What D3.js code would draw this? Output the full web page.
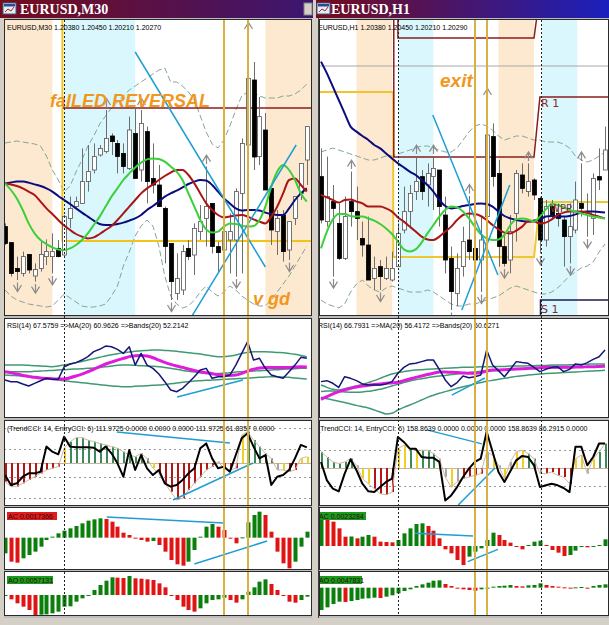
<!DOCTYPE html>
<html><head><meta charset="utf-8">
<script src="https://cdn.jsdelivr.net/npm/d3@7/dist/d3.min.js"></script>
<style>html,body{margin:0;padding:0;background:#d4d0c8;overflow:hidden}</style>
</head><body>
<script>
// ================= DATA: EURUSD,M30 (left) — prices in pips above base =================
const m30Open=[44.7,36.7,23.8,21.3,30.8,20,23.8,29.7,29.7,33.8,30.5,48.8,54.7,56.3,67.2,73,80.5,82.2,90,86.3,81.3,73.8,91.3,73,92.2,68.8,65.5,53.8,36.3,11.3,13,33.8,30.5,42.2,48.8,56.3,34.7,33,38,38,61.3,85.5,118,79.7,93,63.8,42.2,50.5,33,48.8,61.3,78];
const m30High=[46.3,36.7,29.7,32.2,30.8,26.3,38,38.3,41.3,38,50.5,59.7,59.7,83.8,85.5,86.3,85.5,103,91.3,88,86.3,99.7,103.8,103,94.7,86.3,75.5,54.7,36.3,31.3,35.5,38,46.3,55.5,74.7,56.3,37.2,61.3,51.3,63.8,88.8,141,127,109.5,101.5,65.5,53,53,47.2,59.7,76.3,94.7];
const m30Low=[35.5,19.7,18,19.7,21.3,17.2,22.2,25.5,21.3,29.3,29.7,43.8,53.8,56.3,62.2,71.3,79.7,81.3,80.5,71.3,71.3,73,68.8,67.2,56.3,61.3,54.7,26.3,8,8,10.5,28,20.5,38,34.7,31.3,21.3,19.7,21.3,19.7,21.3,84.7,73,75.5,63,35.5,30.5,27.2,28,45.5,58,65.5];
const m30Close=[36.3,21.3,22.2,29.7,23,23.3,30.8,32.2,32.2,29.7,49.7,53.8,57.2,67.2,72.2,79.7,83.8,88.8,87.2,79.7,74.7,93,68.8,96.3,67.2,65.5,54.7,34.7,17.2,18.8,32.2,29.7,43.8,47.2,54.7,34.7,31.7,42.2,42.2,62.2,86.3,118.8,79.5,99.7,63,43,48.8,32.2,47.2,59.7,76.3,94.7];
const m30MaBlue=[66.3,66.8,67.2,67.2,66.7,65.8,65,63.8,62.2,60,58,56,53.8,51.7,49.7,47.7,46,45.5,45.5,46,46.7,47.7,48.8,50.5,53,55,57.2,59.7,61.3,62.7,64.3,66,67.2,68,67.7,65.5,62.2,58.8,56.3,53.8,52.7,53,53,52.7,51.7,51,50.5,50.5,53.8,58,61.3,63.8];
const m30MaRed=[66.3,65.8,65,63.8,62.2,60.5,57.2,53.8,51,48,45.2,43,41,39.7,38.8,39.3,41,43,45,48,51.3,54.7,58,61.3,63.8,65.8,68,70,71.7,73,73,70.5,66.3,61.3,56.3,53,50.5,49.3,49.7,50.3,50.5,49.7,48.3,47.2,46.3,49.7,54.7,61.3,68,68.8,65.5,62.2];
const m30MaGreen=[66.3,63,58.8,53,46.3,41.3,38,36,34.3,33.3,33,33.8,35.5,38,41.3,45.5,49.7,54.7,59.7,63.8,68,71.3,74.3,76.7,78.3,78.8,78.5,77.2,74.7,72.2,68,61.3,54.7,48,43.3,41.7,42.2,44.7,46.3,46,45.2,44.7,45,48,54.7,64.7,72.2,75.5,73,68,61.3,57.2];
const m30EnvUp=[86.5,87,87.5,87,86.5,86,85,80,73,68,62,65,72,78,85,90,96,100,104,107,110,113,115,117,119,121,123,124,117,117,115,112,108,100,92,86,84,88,95,103,110,112,112,110,109,109,109,110,110,111,113,116];
const m30EnvDn=[13,10,8,7,6,5.5,5,4.5,5,8,11,9,7,5,4.5,4.5,5,6,10,15,25,32,40,45,48,45,35,20,10,6,4,5,8,12,15,12,10,12,15,13,10,8,6,5,5,8,12,16,20,25,30,35];
const m30FractalUp=[17,23,34,41];
const m30FractalDn=[2,5,8,28,39,48];
const m30SessFrom=[-1,10,44], m30SessTo=[8,22,53], m30SessKind=['a','b','a'];
const m30Gold=[37,41], m30Dotted=[10];
const m30Yellow=[[9.7,150],[9.7,37.5],[53,37.5]];
const m30Resist=[[9.8,104],[53,104]];
const m30TrendA=[[22,132],[44,24.5]], m30TrendB=[[31.6,0],[49.2,85.5]];
const m30Rsi=[51.4,50.2,50.2,48.5,47,49,50.9,52.7,51.9,51.9,61.2,63.2,64.2,66.1,68.6,72.3,74,76.4,75.9,74,71,75.9,62.4,71,62.4,60,55.8,50.2,44.1,42.8,45.3,49.4,53.8,58.8,60,52.7,53.8,53.8,55.1,62.4,71,79.6,66.1,67.4,60,55.1,53.8,52.7,57.5,62.4,68.1,67.4];
const m30RsiMa=[57.5,56.8,55.8,54.8,54.1,53.4,52.9,52.6,52.4,52.1,52.1,53.1,54.4,55.8,57.5,59.3,61.2,63.2,64.6,66.1,67.3,68.6,69.3,69.5,69.1,67.8,66.1,64.4,62.9,61.7,60.7,59.5,58.5,57.5,56.8,56.1,55.3,55.1,54.8,55.1,56.3,58,59.3,60.2,60.7,60.7,60.7,60.7,60.7,61,61.2,61];
const m30BandUp=[62.4,62.4,62.4,62.4,62.2,62,61.7,61.5,61.2,61.7,62.4,63.2,64.2,65.1,66.1,67.1,68.1,69.1,70,70.8,71.5,72,72.5,73,73.2,73.5,73.5,73.2,73,72.5,72,71.5,71,70.5,69.8,69.1,68.6,68.6,69.1,69.8,71,71.7,72.2,72.2,72.2,72,71.7,71.5,71,70.3,69.5,68.6];
const m30BandMid=[57.5,57.5,57.5,57.5,57.5,57.8,58,58.3,58.5,58.8,59,59.3,59.5,59.7,60,60.2,60.7,61.2,61.7,62.2,62.4,62.4,62.2,62,61.7,61.5,61.2,60.7,60,59.3,58.5,57.8,57.3,56.8,56.5,56.3,56.3,56.5,56.8,57.3,57.5,57.8,58,58.3,58.5,58.8,59,59.3,59.5,59.7,60,60];
const m30BandDn=[55.1,54.8,54.6,54.4,53.9,53.4,52.9,52.4,51.9,51.4,50.9,50.4,50,49.5,49,48.5,48,47.5,47,46.8,46.5,46.5,46.8,47,47.2,47.5,47.7,48.2,48.7,49.2,49.7,50.2,50.7,50.9,51.2,51.4,51.6,51.9,52.1,52.4,52.6,52.9,53.1,53.4,53.6,53.9,53.9,53.6,53.4,52.9,52.6,52.1];
const m30RsiTrend=[[29.1,38.9],[40.2,51.4]];
const m30CciHist=[-133,-169,-169,-145,-121,-98,-74,-50,-38,-26,105,152,181,181,164,152,140,129,117,105,81,57,45,69,33,-38,-74,-145,-205,-264,-252,-193,-145,-98,-50,-26,10,-38,-50,-38,200,224,164,117,69,33,-50,-50,-62,-50,33,45];
const m30CciColor=['r','r','r','r','r','r','r','r','r','r','y','g','g','g','g','g','g','g','g','g','g','g','g','g','g','y','r','r','r','r','r','r','r','r','r','r','n','r','r','r','y','g','g','g','g','g','n','y','r','r','y','y'];
const m30CciLine=[-86,-157,-145,-98,-74,-74,-62,117,81,62,188,117,112,112,112,109,81,117,69,-2,-98,93,-50,57,-38,-86,-50,-145,-169,-157,-121,-74,-38,105,140,33,-38,-26,-62,57,176,212,117,33,57,-157,-98,-86,-50,33,129,112];
const m30CciLevels=[-250,-100,100,250];
const m30CciTrendA=[[18.9,221],[38,143]], m30CciTrendB=[[28.4,-264],[41.9,0]];
const m30Ac=[-47,-72,-75,-62,-52,-42,-27,-7,3,13,21,28,35,43,51,55,58,56,48,33,15,8,-2,-7,-12,-10,-22,-42,-67,-80,-84,-72,-37,3,33,41,33,23,-2,-17,1,46,68,78,68,18,-42,-77,-92,-72,-27,18];
const m30Ao=[-3,-13,-25,-35,-45,-60,-59,-58,-55,-50,-35,-34,-20,-10,0,15,30,43,53,52,51,57,50,49,47,45,35,23,0,-15,-35,-45,-50,-40,-25,-15,-13,-8,-15,-23,-13,10,23,40,47,33,15,0,-20,-23,-15,-5];
const m30AcTrendA=[[17.2,62],[36.9,44]], m30AcTrendB=[[32,-79],[44.3,-10]];

// ================= DATA: EURUSD,H1 (right) =================
const h1Open=[69.7,47.2,57.2,46.3,28.8,57.2,52.2,38.8,35.5,18.8,24.7,18.8,18,24.7,43,52.2,62.2,69.7,65.5,69.7,73,50.5,28.8,11.3,24.7,38,33.8,28,49.7,89.7,71.3,34.7,28,51.3,70.5,62.2,68,58.8,38,54.7,51.3,48,39.7,43,56.3,51.3,48.8,69.7,73];
const h1High=[83.8,79.7,65.5,56.3,59.7,72.2,64.7,47.2,49.7,29.7,28,29.7,32.2,46.3,64.7,65.5,79.7,73,76.3,79.7,73,59.7,34.7,31.3,44.7,60,49.7,49.7,108,96.3,78,41.3,50.5,73,76.3,76.3,68.8,59.7,58,58,56.3,49.7,56.3,67.2,76.3,61.3,71.3,83.8,94.7];
const h1Low=[46.3,44.7,19.7,28,28,44.7,38,29.7,18,13,13,18,17.2,24.7,41.3,44.7,58,58,54.7,53,44.7,21.3,3,5,19.7,28,24.7,12,13,64.7,24.7,24.7,21.3,37.2,61.3,59.7,58,31.3,34.7,48,44.7,24.7,26.3,41.3,49.7,39.7,40.5,63,73];
const h1Close=[48,59.7,53.8,28.8,49.7,52.2,48.8,35.5,18,23.8,19.7,23.8,23.8,41.3,52.2,61.3,67.2,62.2,71.3,73.8,54.7,28,12.2,23.8,37.2,32.2,28,38,90.5,69.7,34.7,26.3,42.2,71.3,63.8,67.2,60.5,38,54.7,49.7,48.8,39.7,44.7,58,53.8,52.2,68.8,68,83];
const h1MaBlue=[127.2,121.3,114.7,108,101.3,94.7,92.2,90,88,85.5,83.8,81.3,78.8,76.3,74.3,72.2,70.5,68,65.5,62.2,58,55,53.8,54.3,55,55.5,56,56.3,56,54.7,52.2,50,48.8,48,47.5,47.2,47.7,48.3,49.7,50,49.7,49.7,50,50.8,51.7,52.2,52.2,52,51.8];
const h1MaRed=[60.5,59.3,58,56.7,58,58.3,57.2,56.3,54.7,54.7,54.7,53.8,52.2,49.3,47.2,44.7,42.2,39.7,38.3,38,39.7,42.2,44.7,48,50.5,51.3,51,50,48,45.5,43.3,41.7,41.3,42.7,44.7,47.2,47.2,46.3,46.7,48.3,50.5,51.7,52.2,52.2,52.2,51.7,50.5,49.7,48.8];
const h1MaGreen=[33.8,42.2,48.3,51,51,50,49.7,49.7,48.8,47.7,46,43.8,41,37.2,33.3,32.2,33.3,36.7,41.3,45.5,49.7,53,54.7,54.3,52.2,48.8,44.7,41,38.8,38,38.3,40.5,45.5,48.3,48.8,48.3,47.2,49.7,53.3,56,55.5,54.3,53,52.2,51.3,50.5,49.7,49.3,48.8];
const h1EnvUp=[82,83,84,83,82,81,80,79,78,78,79,80,80,81,82,83,84,85,85,84,83,82,82,84,88,92,95,96,95,93,90,88,89,90,90,89,88,88,87,87,87,86,84,80,78,77,78,80,82];
const h1EnvDn=[8,6,5,4,6,12,16,18,15,13,12,14,15,14,13,12,12,12,13,12,10,8,6,5,5,6,6,7,8,9,10,12,14,15,14,13,12,11,11,12,14,17,20,22,24,25,27,32,36];
const h1FractalUp=[5,16,19,25,28,35,44];
const h1FractalDn=[2,10,22,27,31,37,42,45];
const h1SessFrom=[6,13,30,37.3], h1SessTo=[12,19,36,43.3], h1SessKind=['a','b','a','b'];
const h1Gold=[26,28], h1Dotted=[13,37.2];
const h1PivotA=[[12.3,150],[12.3,79.5],[36,79.5],[37,109.5],[50,109.5]];
const h1PivotB=[[13,150],[13,139],[36,139],[36.5,150]];
const h1Yellow=[[-1,112],[12.2,112],[12.2,29.5],[36,29.5],[37,57],[50,57]];
const h1S1=[[37.1,-2],[37.1,8],[50,8]];
const h1Bid=[[-1,125],[50,125]];
const h1TrendA=[[18.9,100.5],[29.9,20.5]], h1TrendB=[[23.8,3],[31.9,65.5]];
const h1Rsi=[47.5,48.1,46.5,44,50.5,49.5,48.1,46.1,45.4,45.4,45.4,46.1,47.5,52.6,56.2,58.3,58.7,59.7,60.7,60.7,55,48.5,44.4,46.9,50.9,49.9,50.5,51.5,66.8,57.6,54.2,50.5,55,59.7,59.1,58.7,56.2,53.6,55,56.2,56.6,53.6,55,58.3,57.6,59.1,61.1,62.7,66.8];
const h1RsiMa=[36.7,38.3,40,41.4,42.4,43.4,44.2,44.8,45.3,45.7,46.1,46.5,46.7,47.1,48.1,49.1,50.1,50.9,51.8,52.6,53.4,53.4,53.2,53,52.8,52.6,52.6,53,54,54.6,54.6,54.8,55,55.2,55.4,55.6,55.8,56,56.2,56.2,56.2,56.2,56.2,56.4,56.4,56.6,56.6,56.8,57];
const h1BandUp=[45.4,44,42.8,42.4,43.2,44,44.8,45.7,46.9,48.1,49.5,50.9,52.2,53,53.6,54.2,54.6,54.8,55,55.2,55.4,55.6,55.8,56,56.2,56.2,56.4,56.6,56.6,56.6,56.8,56.8,57,57,57,57.2,57.2,57.4,57.4,57.6,57.6,57.6,57.8,57.8,58.1,58.1,58.3,58.3,58.3];
const h1BandMid=[41.4,41.8,41.8,41.4,41.2,41,41,41.2,41.6,42.2,42.8,43.8,44.8,45.9,46.9,47.9,48.7,49.3,49.9,50.5,50.9,51.3,51.8,52.2,52.6,53,53.4,53.8,54,54.2,54.4,54.6,54.8,55,55.2,55.4,55.4,55.6,55.6,55.8,55.8,56,56,56.2,56.2,56.4,56.4,56.6,56.6];
const h1BandDn=[37.9,37.1,36.3,35.5,34.7,33.9,33,32.2,31.4,30.2,29,27.8,28.2,30.2,31.8,33.2,34.7,36.3,37.9,39.2,40.4,41.4,42.4,43.4,44.4,45.2,46.1,46.9,47.7,48.3,48.9,49.5,50.1,50.7,51.1,51.5,51.9,52.2,52.4,52.6,52.8,53,53.2,53.4,53.6,53.8,54,54.2,54.4];
const h1RsiTrend=[[22.1,39.3],[27.7,49.7]];
const h1CciHist=[91,62,34,25,34,53,15,-60,-89,-117,-145,-151,-136,109,128,109,100,100,100,81,53,-51,-108,-79,-60,-51,-42,-32,91,72,15,-60,34,91,100,81,53,-32,-32,-23,-42,-51,-89,53,72,-32,53,91,138];
const h1CciColor=['g','g','g','g','g','g','n','y','y','r','r','r','r','y','y','g','y','g','g','g','n','n','y','n','r','r','r','r','n','y','n','y','n','y','y','g','g','n','r','r','r','r','r','y','y','n','y','g','g'];
const h1CciLine=[34,-70,-117,-132,-32,49,-13,-89,-132,-136,-108,-79,-60,175,147,109,109,62,57,57,34,-183,-155,-108,-51,-4,34,53,204,91,-23,-79,-19,43,68,62,15,-108,-98,-89,-98,-113,-136,119,119,15,62,138,138];
const h1CciLevels=[-100,100];
const h1CciTrendA=[[17.9,215],[27.2,136]], h1CciTrendB=[[23.2,-209],[29.4,0]];
const h1Ac=[84,83,73,53,28,28.5,23,28,33,28,13,12,11,18,38,53,66,68,60,46,23,-10,-22,-42,-57,-32,-17,-7,18,40,33,18,10,-2,-10,3,13,16,3,-12,-20,-30,-27,-14,-2,-4,-2,3,20];
const h1Ao=[-67,-59,-49,-42,-43,-40,-37,-33,-32,-30,-31,-27,-23,-17,-10,-5,5,10,15,21,22,11,5,0,-5,-7,-9,-5,-2,3,5,6,8,5,4,7,8,13,8,5,3,1,-2,1,2,0,5,8,10];
const h1AcTrendA=[[15.9,38],[25.7,30]], h1AcTrendB=[[24.8,-47],[29.9,-10]];

// ================= LAYOUT / DRAW =================
const W=609,H=625;
const PANES={price:[20,315],rsi:[319,417],cci:[421,505],ac:[508,569],ao:[572,615]};
const FONT='"Liberation Sans", Arial, sans-serif';
const svg=d3.select('body').append('svg').attr('width',W).attr('height',H).style('display','block');
const defs=svg.append('defs');
svg.append('rect').attr('width',W).attr('height',H).attr('fill','#d4d0c8');

function titleBar(x0,x1,text,endColor,id,iconX,textX){
  const gr=defs.append('linearGradient').attr('id',id).attr('x1',0).attr('x2',1).attr('y1',0).attr('y2',0);
  gr.append('stop').attr('offset',0).attr('stop-color','#740c1c');
  gr.append('stop').attr('offset',1).attr('stop-color',endColor);
  svg.append('rect').attr('x',x0).attr('y',0).attr('width',x1-x0).attr('height',18).attr('fill',`url(#${id})`);
  const ic=svg.append('g').attr('transform',`translate(${iconX},3)`);
  ic.append('rect').attr('width',13).attr('height',11).attr('fill','#e4ecf4').attr('stroke','#4a5a78');
  ic.append('rect').attr('x',1).attr('y',1).attr('width',11).attr('height',2.5).attr('fill','#2a4a9a');
  ic.append('path').attr('d','M2,9 L5,6 L8,8 L11,4').attr('stroke','#b02020').attr('fill','none');
  svg.append('text').attr('x',textX).attr('y',14).text(text).attr('fill','#fff')
    .attr('font-family','"Liberation Serif","Times New Roman",serif').attr('font-weight','bold').attr('font-size',14);
}

function pline(g,pts,xs,ys,stroke,w,dash){
  g.append('path').attr('d',d3.line().x(d=>xs(d[0])).y(d=>ys(d[1]))(pts))
    .attr('fill','none').attr('stroke',stroke).attr('stroke-width',w).attr('stroke-dasharray',dash||null);
}
function series(g,arr,xs,ys,stroke,w,dash,curve){
  g.append('path').attr('d',d3.line().x((d,i)=>xs(i)).y(d=>ys(d)).curve(curve||d3.curveLinear)(arr))
    .attr('fill','none').attr('stroke',stroke).attr('stroke-width',w).attr('stroke-dasharray',dash||null)
    .attr('stroke-linejoin','round');
}
function label(g,x,y,t,opts={}){
  return g.append('text').attr('x',x).attr('y',y).text(t).attr('font-family',opts.family||FONT)
    .attr('font-size',opts.size||7).attr('fill',opts.fill||'#000')
    .attr('font-weight',opts.weight||null).attr('font-style',opts.style||null);
}

function drawChart(c){
  const [bx0,bx1]=c.bounds;
  const n=c.open.length;
  const x=d3.scaleLinear().domain([0,n-1]).range(c.xr);
  const xp=i=>Math.round(x(i))+0.5;
  const g=svg.append('g');
  g.append('rect').attr('x',bx0).attr('y',18).attr('width',bx1-bx0).attr('height',600).attr('fill','#bdbdbd');
  const P={};
  for(const [k,[y0,y1]] of Object.entries(PANES)){
    const id=`clip-${c.id}-${k}`;
    defs.append('clipPath').attr('id',id).append('rect').attr('x',bx0).attr('y',y0).attr('width',bx1-bx0).attr('height',y1-y0);
    g.append('rect').attr('x',bx0).attr('y',y0).attr('width',bx1-bx0).attr('height',y1-y0).attr('fill','#fff');
    P[k]=g.append('g').attr('clip-path',`url(#${id})`);
  }

  // ---------- PRICE ----------
  const y=d3.scaleLinear().domain([0,148]).range([316,20]);
  const pp=P.price;
  c.sessFrom.forEach((s,i)=>pp.append('rect').attr('x',x(s)).attr('y',20).attr('width',x(c.sessTo[i])-x(s)).attr('height',295)
    .attr('fill',c.sessKind[i]==='a'?'#fde8d0':'#daf7fd'));
  if(c.bid) pline(pp,c.bid,x,y,'#a8a8a8',1);
  series(pp,c.envUp,x,y,'#86a596',1,'6,3');
  series(pp,c.envDn,x,y,'#86a596',1,'6,3');
  c.lines.forEach(L=>pline(pp,L.pts,x,y,L.color,L.w,L.dash));
  // candles
  c.open.forEach((o,i)=>{
    const cl=c.close[i], up=cl>=o;
    pp.append('line').attr('x1',xp(i)).attr('x2',xp(i)).attr('y1',y(c.high[i])).attr('y2',y(c.low[i]))
      .attr('stroke','#6e6e6e').attr('stroke-width',1);
    const top=y(Math.max(o,cl)), bot=y(Math.min(o,cl));
    pp.append('rect').attr('x',Math.round(x(i))-1.5).attr('y',top).attr('width',4).attr('height',Math.max(1,bot-top))
      .attr('fill',up?'#fff':'#000').attr('stroke',up?'#555':'#000').attr('stroke-width',0.8);
  });
  series(pp,c.maBlue,x,y,'#0c0c7c',2,null,d3.curveMonotoneX);
  series(pp,c.maRed,x,y,'#a81616',2,null,d3.curveMonotoneX);
  series(pp,c.maGreen,x,y,'#3ad03a',2,null,d3.curveMonotoneX);
  c.trends.forEach(t=>pline(pp,t,x,y,'#1e9ed4',1.5));
  // fractals
  const arrow=(cx,cy,dir)=>pp.append('path')
    .attr('d',`M${cx-4},${cy+3*dir} L${cx},${cy-3.5*dir} L${cx+4},${cy+3*dir} M${cx},${cy-3.5*dir} L${cx},${cy+5.5*dir}`)
    .attr('fill','none').attr('stroke','#8a8a8a').attr('stroke-width',1.2);
  c.fracUp.forEach(i=>arrow(xp(i),y(c.high[i])-8,1));
  c.fracDn.forEach(i=>arrow(xp(i),y(c.low[i])+8,-1));
  c.priceTexts.forEach(t=>label(pp,t.x,t.y,t.text,t));
  label(pp,c.hdrX,30,c.header);

  // ---------- RSI ----------
  const yr=d3.scaleLinear().domain(c.rsiDomain).range([418,330]);
  const rp=P.rsi;
  [c.bandUp,c.bandMid,c.bandDn].forEach(b=>series(rp,b,x,yr,'#3f9a72',1.5,null,d3.curveMonotoneX));
  series(rp,c.rsiMa,x,yr,'#e01cdc',3,null,d3.curveMonotoneX);
  series(rp,c.rsi,x,yr,'#15157a',1.5);
  pline(rp,c.rsiTrend,x,yr,'#1e9ed4',1.5);
  label(rp,c.hdrX,328,c.rsiLabel);

  // ---------- CCI ----------
  const yc=d3.scaleLinear().domain(c.cciDomain).range([505,421]);
  const cp=P.cci;
  c.cciLevels.forEach(v=>cp.append('line').attr('x1',bx0).attr('x2',bx1).attr('y1',Math.round(yc(v))+0.5).attr('y2',Math.round(yc(v))+0.5)
    .attr('stroke','#9a9a9a').attr('stroke-dasharray','2,3'));
  cp.append('line').attr('x1',bx0).attr('x2',bx1).attr('y1',Math.round(yc(0))+0.5).attr('y2',Math.round(yc(0))+0.5)
    .attr('stroke','#c8b49a').attr('stroke-width',1);
  const ccol={r:'#b41616',g:'#3c8a5c',y:'#f0d024',n:'#a8a8a8'};
  c.cciHist.forEach((v,i)=>{
    const a=yc(0), b=yc(v);
    cp.append('rect').attr('x',Math.round(x(i))).attr('y',Math.min(a,b)).attr('width',2).attr('height',Math.abs(b-a))
      .attr('fill',ccol[c.cciColor[i]]);
  });
  series(cp,c.cciHist,x,yc,'#cdb9a0',1);
  series(cp,c.cciLine,x,yc,'#000',2);
  c.cciTrends.forEach(t=>pline(cp,t,x,yc,'#1e9ed4',1.5));
  label(cp,c.hdrX,431,c.cciLabel);

  // ---------- AC / AO ----------
  const histo=(gp,vals,dom,y0,y1,boxText,boxColor,boxW)=>{
    const ys=d3.scaleLinear().domain(dom).range([y1,y0]);
    vals.forEach((v,i)=>{
      const rising=i===0||v>=vals[i-1];
      const a=ys(0), b=ys(v);
      gp.append('rect').attr('x',Math.round(x(i))-1.5).attr('y',Math.min(a,b)).attr('width',4).attr('height',Math.max(1,Math.abs(b-a)))
        .attr('fill',rising?'#0b7f0b':'#e11414');
    });
    gp.append('rect').attr('x',c.hdrX).attr('y',y0+4).attr('width',boxW).attr('height',8).attr('fill',boxColor);
    label(gp,c.hdrX+1,y0+10.5,boxText,{fill:'#2a0a0a'});
    return ys;
  };
  const ya=histo(P.ac,c.ac,c.acDomain,508,569,c.acLabel,c.acBox,c.acBoxW);
  c.acTrends.forEach(t=>pline(P.ac,t,x,ya,'#1e9ed4',1.5));
  histo(P.ao,c.ao,c.aoDomain,572,615,c.aoLabel,'#1c9a1c',c.aoBoxW);

  // ---------- vertical markers ----------
  const vg=g.append('g');
  c.dotted.forEach(i=>vg.append('line').attr('x1',xp(i)).attr('x2',xp(i)).attr('y1',20).attr('y2',615)
    .attr('stroke','#222').attr('stroke-dasharray','2,2'));
  c.gold.forEach(i=>vg.append('line').attr('x1',Math.round(x(i))).attr('x2',Math.round(x(i))).attr('y1',20).attr('y2',615)
    .attr('stroke','#d8b044').attr('stroke-width',2));

  // pane borders
  for(const [k,[y0,y1]] of Object.entries(PANES)){
    g.append('rect').attr('x',bx0+0.5).attr('y',y0-0.5).attr('width',bx1-bx0-1).attr('height',y1-y0+1)
      .attr('fill','none').attr('stroke','#2a2a2a').attr('stroke-width',1);
  }
}

titleBar(0,313,'EURUSD,M30','#3c1672','tl',3,20);
svg.append('rect').attr('x',304).attr('y',3).attr('width',8).attr('height',12).attr('fill','#d4d0c8').attr('stroke','#808080');
titleBar(316,609,'EURUSD,H1','#1a1fbc','tr',317,331);

drawChart({
  id:'m30',bounds:[4,312],xr:[5,306.8],hdrX:7,
  open:m30Open,high:m30High,low:m30Low,close:m30Close,
  maBlue:m30MaBlue,maRed:m30MaRed,maGreen:m30MaGreen,envUp:m30EnvUp,envDn:m30EnvDn,
  fracUp:m30FractalUp,fracDn:m30FractalDn,
  sessFrom:m30SessFrom,sessTo:m30SessTo,sessKind:m30SessKind,
  gold:m30Gold,dotted:m30Dotted,bid:null,
  lines:[{pts:m30Yellow,color:'#f2c41a',w:2},{pts:m30Resist,color:'#8a1e1e',w:1.5}],
  trends:[m30TrendA,m30TrendB],
  priceTexts:[
    {x:50,y:107,text:'faILED REVERSAL',size:18,weight:'bold',style:'italic',fill:'#f2971e'},
    {x:253,y:305,text:'v gd',size:18,weight:'bold',style:'italic',fill:'#f2971e'}],
  header:'EURUSD,M30  1.20380 1.20450 1.20210 1.20270',
  rsi:m30Rsi,rsiMa:m30RsiMa,bandUp:m30BandUp,bandMid:m30BandMid,bandDn:m30BandDn,rsiDomain:[23.5,88.2],rsiTrend:m30RsiTrend,
  rsiLabel:'RSI(14) 67.5759  =>MA(20) 60.9626  =>Bands(20) 52.2142',
  cciHist:m30CciHist,cciColor:m30CciColor,cciLine:m30CciLine,cciDomain:[-300,300],cciLevels:m30CciLevels,
  cciTrends:[m30CciTrendA,m30CciTrendB],
  cciLabel:'(TrendCCI: 14, EntryCCI: 6)  111.9725 0.0000 0.0000 0.0000 111.9725 61.8357 0.0000',
  ac:m30Ac,acDomain:[-94,89],acLabel:'AC 0.0017366',acBox:'#e01c1c',acBoxW:50,acTrends:[m30AcTrendA,m30AcTrendB],
  ao:m30Ao,aoDomain:[-60,69],aoLabel:'AO 0.0057131',aoBoxW:46
});

drawChart({
  id:'h1',bounds:[319,609],xr:[321,605],hdrX:318,
  open:h1Open,high:h1High,low:h1Low,close:h1Close,
  maBlue:h1MaBlue,maRed:h1MaRed,maGreen:h1MaGreen,envUp:h1EnvUp,envDn:h1EnvDn,
  fracUp:h1FractalUp,fracDn:h1FractalDn,
  sessFrom:h1SessFrom,sessTo:h1SessTo,sessKind:h1SessKind,
  gold:h1Gold,dotted:h1Dotted,bid:h1Bid,
  lines:[{pts:h1Yellow,color:'#f0c630',w:2},{pts:h1PivotA,color:'#8a1e1e',w:1.5},{pts:h1PivotB,color:'#8a1e1e',w:1.5},{pts:h1S1,color:'#1c1c50',w:1.5}],
  trends:[h1TrendA,h1TrendB],
  priceTexts:[
    {x:440,y:87,text:'exit',size:19,weight:'bold',style:'italic',fill:'#f2971e'},
    {x:541,y:107,text:'R 1',size:11,fill:'#8a2a2a',family:'"DejaVu Sans",sans-serif'},
    {x:541,y:313,text:'S 1',size:11,fill:'#7a2a3a',family:'"DejaVu Sans",sans-serif'},
    {x:550,y:212,text:'WPP',size:10,fill:'#8a2a2a',family:'"DejaVu Sans",sans-serif'}],
  header:'EURUSD,H1  1.20380 1.20450 1.20210 1.20290',
  rsi:h1Rsi,rsiMa:h1RsiMa,bandUp:h1BandUp,bandMid:h1BandMid,bandDn:h1BandDn,rsiDomain:[25.3,79],rsiTrend:h1RsiTrend,
  rsiLabel:'RSI(14) 66.7931  =>MA(20) 56.4172  =>Bands(20) 50.6271',
  cciHist:h1CciHist,cciColor:h1CciColor,cciLine:h1CciLine,cciDomain:[-209,265],cciLevels:h1CciLevels,
  cciTrends:[h1CciTrendA,h1CciTrendB],
  cciLabel:'(TrendCCI: 14, EntryCCI: 6)  158.8639 0.0000 0.0000 0.0000 158.8639 86.2915 0.0000',
  ac:h1Ac,acDomain:[-69,114],acLabel:'AC 0.0023284',acBox:'#1c9a1c',acBoxW:48,acTrends:[h1AcTrendA,h1AcTrendB],
  ao:h1Ao,aoDomain:[-82,47],aoLabel:'AO 0.0047831',aoBoxW:44
});
svg.append('line').attr('x1',318.5).attr('x2',318.5).attr('y1',18).attr('y2',618).attr('stroke','#404040');
</script>
</body></html>
